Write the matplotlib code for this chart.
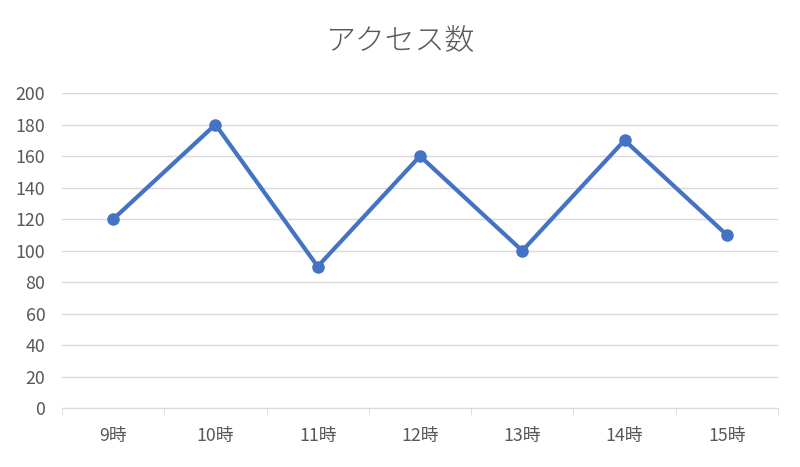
import numpy as np
import matplotlib.pyplot as plt
import matplotlib

matplotlib.rc('font', family=['Noto Sans CJK JP', 'DejaVu Sans'])

hours = ['9時', '10時', '11時', '12時', '13時', '14時', '15時']
access = [120, 180, 90, 160, 100, 170, 110]
yticks = [0, 20, 40, 60, 80, 100, 120, 140, 160, 180, 200]

fig = plt.figure(figsize=(8, 4.67), dpi=100)
ax = fig.add_axes([0.0775, 0.1253, 0.895, 0.6756])

x = np.arange(len(hours))
ax.plot(x, access, color='#4472C4', lw=3.0, marker='o', ms=8, zorder=3)

ax.set_xlim(-0.5, len(hours) - 0.5)
ax.set_ylim(0, 200)
ax.set_yticks(yticks)
ax.set_xticks(x)
ax.set_xticklabels(hours)
ax.set_xticks(np.arange(-0.5, len(hours)), minor=True)

ax.grid(axis='y', color='#d9d9d9', lw=1)
ax.set_axisbelow(True)
for s in ['top', 'right', 'left']:
    ax.spines[s].set_visible(False)
ax.spines['bottom'].set_color('#d9d9d9')

ax.tick_params(axis='y', length=0, pad=12, labelsize=12.8, labelcolor='#595959')
ax.tick_params(axis='x', which='major', length=0, pad=13, labelsize=12.8, labelcolor='#595959')
ax.tick_params(axis='x', which='minor', length=5, color='#d9d9d9')

fig.text(0.5, 0.912, 'アクセス数', ha='center', va='center', fontsize=21.5,
         color='#595959', fontweight='light')

fig.savefig('out.png', dpi=100)
